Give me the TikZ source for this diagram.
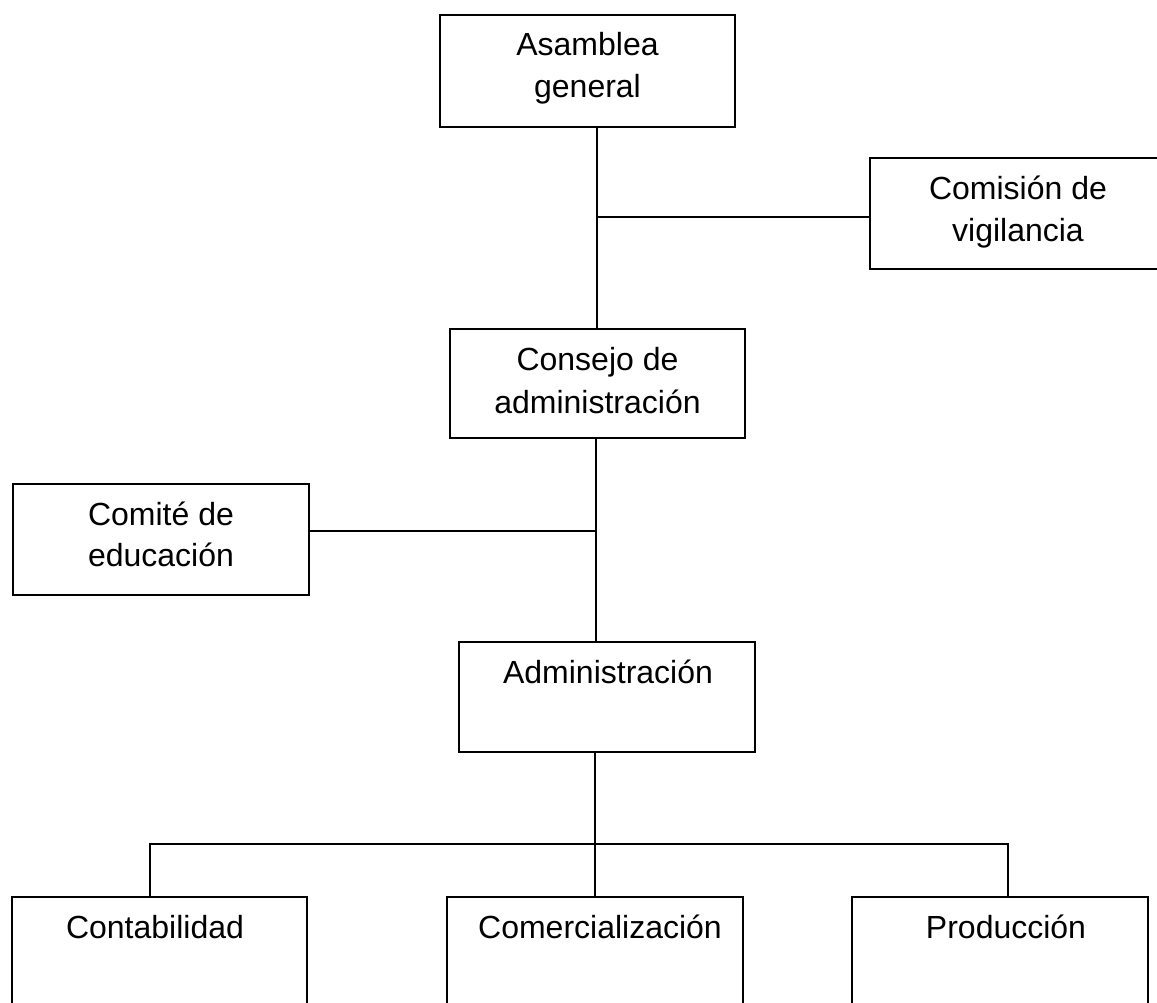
\documentclass[tikz,border=0pt]{standalone}
\usepackage{fontspec}
\setmainfont{Liberation Sans}
\begin{document}
\begin{tikzpicture}[x=1pt,y=-1pt,
  box/.style={draw, line width=1.8pt, inner sep=0pt},
  lbl/.style={anchor=base, inner sep=0pt, font=\fontsize{32}{38}\selectfont},
  conn/.style={line width=1.8pt, line join=miter}]
\useasboundingbox (0,0) rectangle (1157,1002);
% boxes
\node[box, minimum width=295pt, minimum height=112pt] (asam) at (587.5,71) {};
\node[box, minimum width=296pt, minimum height=111pt] (comi) at (1018,213.5) {};
\node[box, minimum width=295pt, minimum height=109pt] (cons) at (597.5,383.5) {};
\node[box, minimum width=296pt, minimum height=111pt] (comite) at (161,539.5) {};
\node[box, minimum width=296pt, minimum height=110pt] (adm) at (607,697) {};
\node[box, minimum width=295pt, minimum height=120pt] (cont) at (159.5,957) {};
\node[box, minimum width=296pt, minimum height=120pt] (comer) at (595,957) {};
\node[box, minimum width=296pt, minimum height=120pt] (prod) at (1000,957) {};
% labels
\node[lbl] (asamA) at (587.5,55) {Asamblea};
\node[lbl] (asamB) at (587.5,97) {general};
\node[lbl] (comiA) at (1018,199) {Comisión de};
\node[lbl] (comiB) at (1018,241) {vigilancia};
\node[lbl] (consA) at (597.5,370) {Consejo de};
\node[lbl] (consB) at (597.5,413) {administración};
\node[lbl] (comiteA) at (161,525) {Comité de};
\node[lbl] (comiteB) at (161,566) {educación};
\node[lbl] (admA) at (608,683) {Administración};
\node[lbl] (contA) at (155,938) {Contabilidad};
\node[lbl] (comerA) at (600,938) {Comercialización};
\node[lbl] (prodA) at (1006,938) {Producción};
% connector coordinates
\coordinate (s1) at (597,217);
\coordinate (s2) at (596,531);
\coordinate (s3) at (595,844);
\coordinate (bl) at (150,844);
\coordinate (br) at (1008,844);
% connectors
\draw[conn] (asam.south -| s1) -- (cons.north -| s1);
\draw[conn] (s1) -- (comi.west |- s1);
\draw[conn] (cons.south -| s2) -- (adm.north -| s2);
\draw[conn] (comite.east |- s2) -- (s2);
\draw[conn] (adm.south -| s3) -- (s3);
\draw[conn] (cont.north -| bl) -- (bl) -- (br) -- (prod.north -| br);
\draw[conn] (s3) -- (comer.north -| s3);
\end{tikzpicture}
\end{document}
